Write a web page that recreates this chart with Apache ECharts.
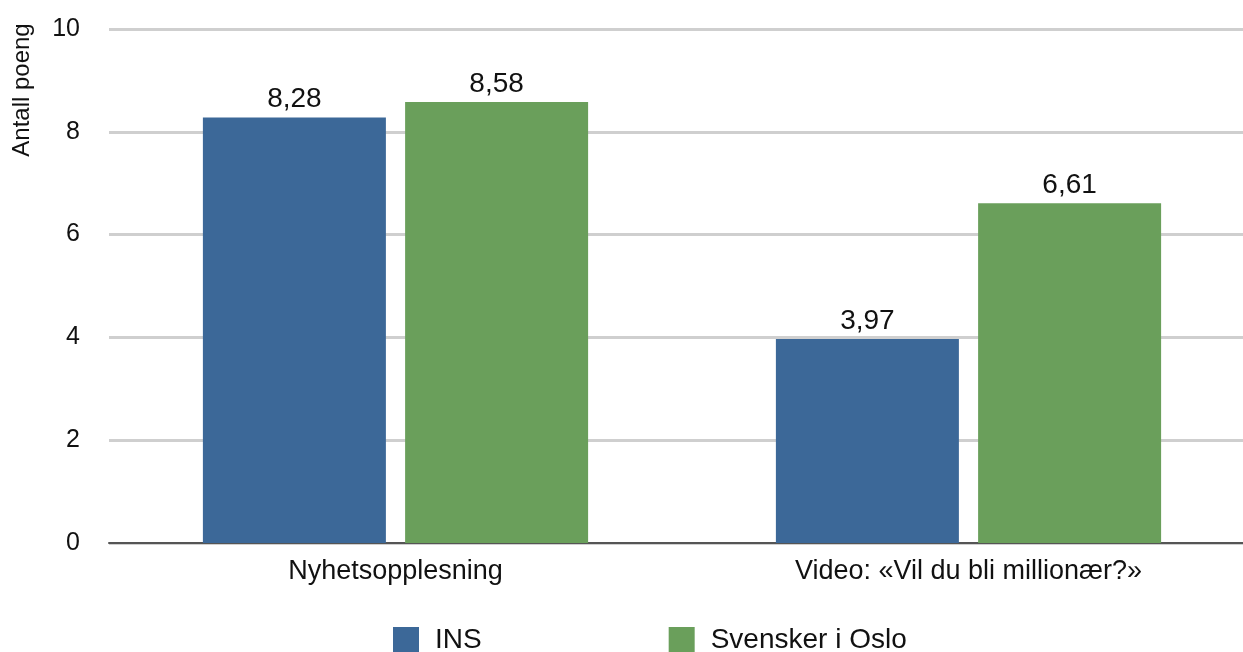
<!DOCTYPE html>
<html>
<head>
<meta charset="utf-8">
<script src="https://cdn.jsdelivr.net/npm/echarts@6/dist/echarts.min.js"></script>
<style>
  html, body { margin: 0; padding: 0; background: #fff; }
  #chart { width: 1243px; height: 652px; }
</style>
</head>
<body>
<div id="chart"></div>
<script>
const categories = ['Nyhetsopplesning', 'Video: «Vil du bli millionær?»'];
const insValues = [8.28, 3.97];
const svenskerValues = [8.58, 6.61];
const seriesNames = ['INS', 'Svensker i Oslo'];
const yTicks = { min: 0, max: 10, interval: 2 };
const yAxisTitle = 'Antall poeng';

const font = '"Liberation Sans", Arial, Helvetica, sans-serif';
const fmt = v => v.toFixed(2).replace('.', ',');

const chart = echarts.init(document.getElementById('chart'), null, { renderer: 'canvas' });

const barLabel = {
  show: true,
  position: 'top',
  distance: 4,
  color: '#111',
  fontFamily: font,
  fontSize: 28,
  formatter: p => fmt(p.value)
};

chart.setOption({
  animation: false,
  backgroundColor: '#fff',
  textStyle: { fontFamily: font },
  // plot area runs past the right edge so the grid lines reach the border
  grid: {
    left: 109, top: 29, right: -12, bottom: 109,
    containLabel: false,
    outerBoundsMode: 'none'
  },
  graphic: [{
    type: 'text',
    x: 22,
    y: 90,
    rotation: Math.PI / 2,
    style: {
      text: yAxisTitle,
      fontFamily: font,
      fontSize: 24,
      fill: '#111',
      align: 'center',
      verticalAlign: 'middle'
    }
  }],
  legend: {
    left: 388,
    top: 621,
    itemWidth: 26,
    itemHeight: 26,
    itemGap: 187,
    icon: 'rect',
    textStyle: { fontFamily: font, fontSize: 28, color: '#111', padding: [0, 0, 0, 11] },
    data: seriesNames
  },
  xAxis: {
    type: 'category',
    data: categories,
    axisTick: { show: false },
    axisLine: { show: true, lineStyle: { color: '#555', width: 2 } },
    axisLabel: { color: '#111', fontFamily: font, fontSize: 27, margin: 15 }
  },
  yAxis: {
    type: 'value',
    min: yTicks.min,
    max: yTicks.max,
    interval: yTicks.interval,
    axisLine: { show: false },
    axisTick: { show: false },
    axisLabel: { color: '#111', fontFamily: font, fontSize: 25, margin: 29 },
    splitLine: { lineStyle: { color: '#cfcfcf', width: 3 } }
  },
  series: [
    {
      name: seriesNames[0],
      type: 'bar',
      data: insValues,
      barWidth: 183,
      barGap: '10.5%',
      itemStyle: { color: '#3c6898' },
      label: barLabel
    },
    {
      name: seriesNames[1],
      type: 'bar',
      data: svenskerValues,
      barWidth: 183,
      itemStyle: { color: '#6a9f5b' },
      label: barLabel
    }
  ]
});
</script>
</body>
</html>
